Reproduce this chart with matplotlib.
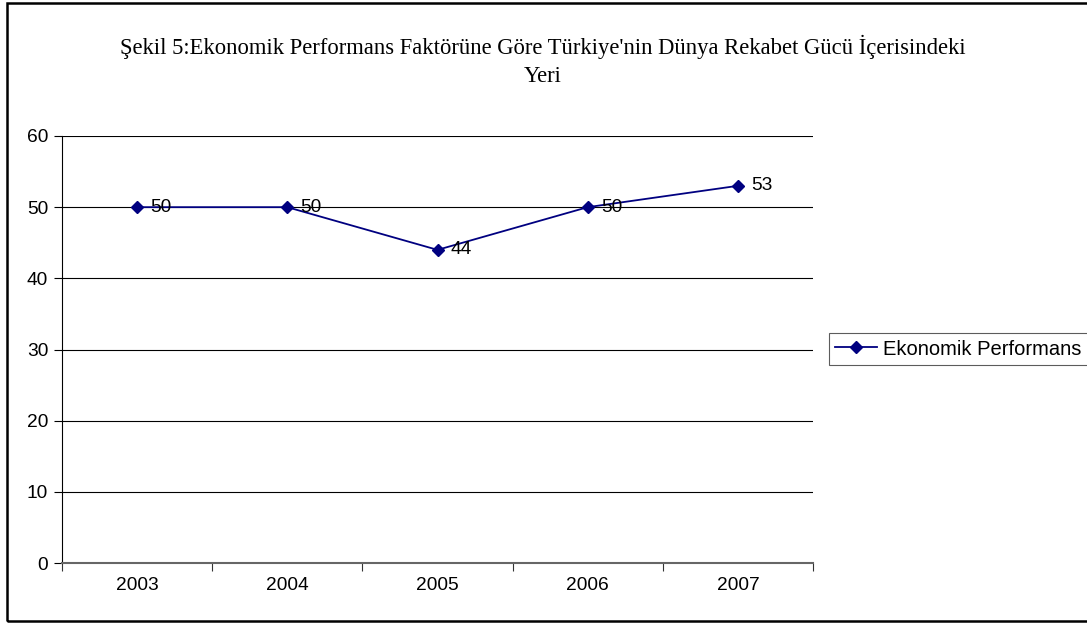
import matplotlib
matplotlib.use('Agg')
import matplotlib.pyplot as plt
from matplotlib.patches import Rectangle

years = ['2003', '2004', '2005', '2006', '2007']
values = [50, 50, 44, 50, 53]
series_name = 'Ekonomik Performans'
title = "Şekil 5:Ekonomik Performans Faktörüne Göre Türkiye'nin Dünya Rekabet Gücü İçerisindeki\nYeri"

plt.rcParams['font.family'] = ['Liberation Sans', 'DejaVu Sans']
fs = 13.8

fig = plt.figure(figsize=(10.87, 6.27), dpi=100)
ax = fig.add_axes([62/1087, 1 - 563/627, (813 - 62)/1087, (563 - 136)/627])

x = list(range(len(years)))
line, = ax.plot(x, values, color='#000080', lw=1.3, marker='D', ms=6.5,
                markerfacecolor='#000080', markeredgecolor='#000080',
                label=series_name, zorder=3)
for xi, v in zip(x, values):
    ax.annotate(str(v), (xi, v), xytext=(9.5, 0), textcoords='offset points',
                va='center', ha='left', fontsize=fs, zorder=4)

ax.set_xlim(-0.5, len(years) - 0.5)
ax.set_ylim(0, 60)
ax.set_yticks(range(0, 61, 10))
ax.yaxis.grid(True, color='black', lw=0.8)
ax.set_axisbelow(True)

# category ticks sit between the categories, labels in the middle
ax.set_xticks([i - 0.5 for i in range(len(years) + 1)])
ax.set_xticklabels([])
ax.set_xticks(x, minor=True)
ax.set_xticklabels(years, minor=True)
ax.tick_params(axis='x', which='minor', length=0, pad=10, labelsize=fs)
ax.tick_params(axis='x', which='major', length=6, direction='out', color='#333333')
ax.tick_params(axis='y', length=6, direction='out', labelsize=fs, pad=4)

for side in ['top', 'right']:
    ax.spines[side].set_visible(False)
ax.spines['left'].set_color('black')
ax.spines['left'].set_linewidth(0.8)
ax.spines['bottom'].set_color('#666666')
ax.spines['bottom'].set_linewidth(1.5)

fig.text(543/1087, 1 - 61/627, title, ha='center', va='center',
         fontsize=16.3, family='Liberation Serif', linespacing=1.45)

leg = fig.legend(handles=[line], loc='center left',
                 bbox_to_anchor=(829/1087, 1 - 349/627),
                 fontsize=14.5, frameon=True, fancybox=False,
                 handlelength=2.1, borderpad=0.3, handletextpad=0.3,
                 borderaxespad=0)
leg.get_frame().set_edgecolor('#333333')
leg.get_frame().set_linewidth(0.8)

# outer chart frame (right edge runs off the canvas)
fig.patches.append(Rectangle((7/1087, 6/627), 1100/1087, 618/627,
                             transform=fig.transFigure, fill=False,
                             edgecolor='black', lw=1.8))

fig.savefig('out.png', dpi=100)
